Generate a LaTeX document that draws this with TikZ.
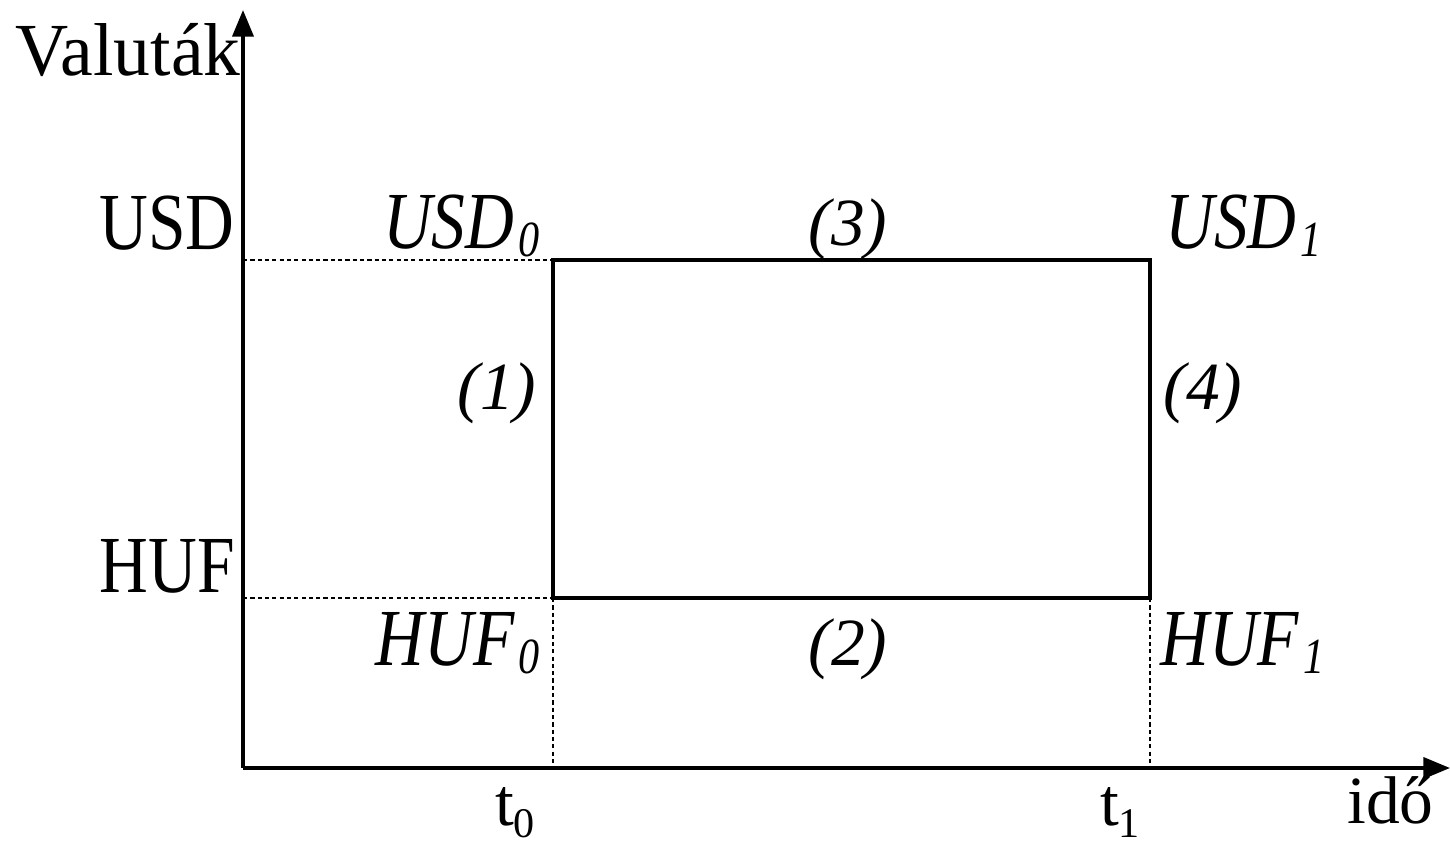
\documentclass[tikz,border=0pt]{standalone}
\usepackage{graphicx}
\usepackage{fontspec}
\setmainfont{Liberation Serif}
\usetikzlibrary{arrows.meta,positioning,calc}

\newcommand{\tall}[1]{\scalebox{1}[1.2]{#1}}
\newcommand{\lowidx}[2]{\raisebox{#1}{\fontsize{30}{34}\selectfont #2}}

\begin{document}
\begin{tikzpicture}[x=0.025cm,y=-0.025cm,
  font=\fontsize{48}{56}\selectfont,
  lbl/.style={inner sep=0pt},
  axis/.style={line width=2.6pt,-{Triangle[length=19pt,width=15pt]}},
  frame/.style={line width=2.6pt},
  guide/.style={line width=1.2pt,dash pattern=on 3pt off 2.2pt}]
\useasboundingbox (0,0) rectangle (1450,849);
% axes
\coordinate (o) at (243,768);
\coordinate (ytop) at (243,10);
\coordinate (xend) at (1450,768);
\draw[axis] (o) -- (ytop);
\draw[axis] (o) -- (xend);
% corners of the swap
\coordinate (u0) at (553,260);
\coordinate (u1) at (1150,260);
\coordinate (h0) at (553,598);
\coordinate (h1) at (1150,598);
\draw[guide] (o |- u0) -- (u0);
\draw[guide] (o |- h0) -- (h0);
\draw[guide] (h0) -- (h0 |- o);
\draw[guide] (h1) -- (h1 |- o);
\draw[frame] (u0) -- (u1) -- (h1) -- (h0) -- cycle;
% axis labels
\node[lbl,anchor=base] (val) at (128,75) {\scalebox{1.09}[1.11]{Valuták}};
\node[lbl,anchor=base east] (usd) at (235,249) {\tall{USD}};
\node[lbl,anchor=base east] (huf) at (235,592) {\tall{HUF}};
\node[lbl,anchor=base] (t0) at (515,825) {t\lowidx{-9pt}{0}};
\node[lbl,anchor=base] (t1) at (1120,825) {t\lowidx{-9pt}{1}};
\node[lbl,anchor=base west] (ido) at (1347,823) {idő};
% corner and step labels
\node[lbl,anchor=base east] (usd0) at (540,248) {\tall{\textit{USD\kern3pt\lowidx{-5pt}{0}}}};
\node[lbl,anchor=base west] (usd1) at (1165,248) {\tall{\textit{USD\kern3pt\lowidx{-5pt}{1}}}};
\node[lbl,anchor=base east] (huf0) at (540,665) {\tall{\textit{HUF\kern3pt\lowidx{-5pt}{0}}}};
\node[lbl,anchor=base west] (huf1) at (1160,665) {\tall{\textit{HUF\kern3pt\lowidx{-5pt}{1}}}};
\node[lbl,anchor=base] (s3) at (848,245) {\textit{(3)}};
\node[lbl,anchor=base] (s2) at (848,665) {\textit{(2)}};
\node[lbl,anchor=base] (s1) at (497,409) {\textit{(1)}};
\node[lbl,anchor=base] (s4) at (1203,409) {\textit{(4)}};
\end{tikzpicture}
\end{document}
